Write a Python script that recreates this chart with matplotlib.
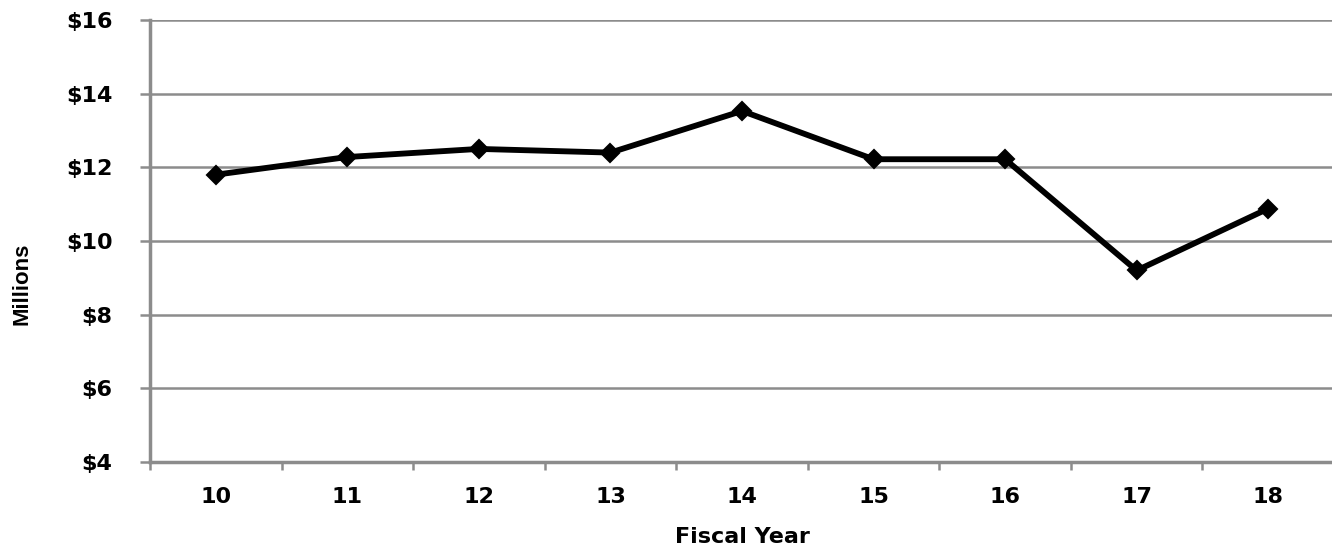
import matplotlib
matplotlib.use("Agg")
import matplotlib.pyplot as plt
from matplotlib.ticker import FuncFormatter

# fiscal-year totals, $ millions
years = ["10", "11", "12", "13", "14", "15", "16", "17", "18"]
totals = [11.8, 12.28, 12.5, 12.4, 13.53, 12.22, 12.22, 9.2, 10.88]
y_ticks = [4, 6, 8, 10, 12, 14, 16]

GRID = "#8c8c8c"
W, H = 1332, 550

fig = plt.figure(figsize=(W / 100, H / 100), dpi=100)
# axes box in pixel terms: left 150, top 20, bottom 462; runs slightly past right edge
left, right, top, bottom = 150, 1334, 20, 462
ax = fig.add_axes([left / W, 1 - bottom / H, (right - left) / W, (bottom - top) / H])

x = list(range(len(years)))
ax.plot(x, totals, color="black", lw=4.2, marker="D", markersize=9.5,
        markeredgewidth=1.5, solid_joinstyle="miter", zorder=3, clip_on=False)

ax.set_ylim(4, 16)
ax.set_xlim(-0.5, len(years) - 0.5)
ax.set_yticks(y_ticks)
ax.yaxis.set_major_formatter(FuncFormatter(lambda v, p: f"${v:.0f}"))
ax.grid(axis="y", color=GRID, lw=1.8, zorder=0)
ax.set_axisbelow(True)

# category labels centred, tick marks between categories
ax.set_xticks(x)
ax.set_xticklabels(years)
ax.set_xticks([i - 0.5 for i in range(len(years) + 1)], minor=True)
ax.tick_params(axis="x", which="major", length=0, pad=18)
ax.tick_params(axis="x", which="minor", length=6, width=1.8, color=GRID, direction="out")
ax.tick_params(axis="y", length=7, width=1.8, color=GRID, direction="out", pad=20)

for lab in ax.get_xticklabels() + ax.get_yticklabels():
    lab.set_fontsize(16)
    lab.set_fontweight("bold")
    lab.set_fontfamily("DejaVu Sans")

for s in ["top", "right"]:
    ax.spines[s].set_visible(False)
for s in ["left", "bottom"]:
    ax.spines[s].set_color(GRID)
    ax.spines[s].set_linewidth(2.5)

fig.text(742 / W, 1 - 537 / H, "Fiscal Year", ha="center", va="center",
         fontsize=16, fontweight="bold", family="DejaVu Sans")
fig.text(22 / W, 1 - 284 / H, "Millions", ha="center", va="center", rotation=90,
         fontsize=16, fontweight="bold",
         family=["Liberation Sans Narrow", "Liberation Sans", "DejaVu Sans"])

fig.savefig("out.png", dpi=100)
